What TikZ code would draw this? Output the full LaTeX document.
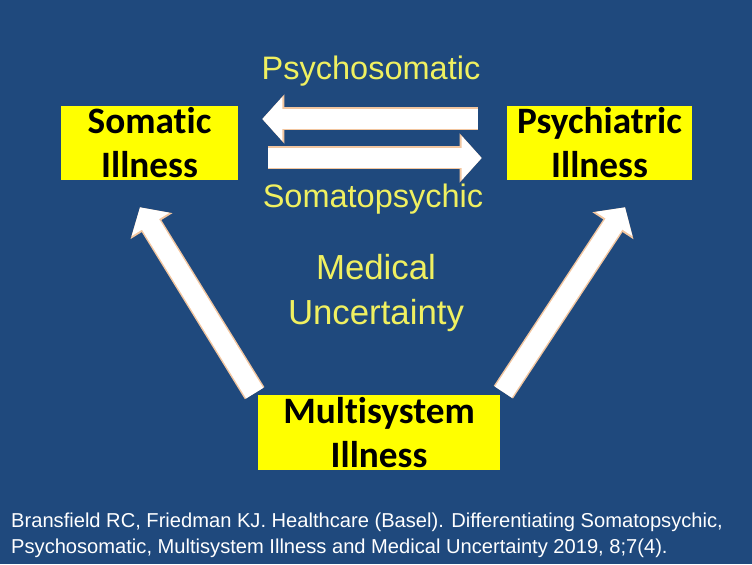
\documentclass[tikz,border=0pt]{standalone}
\usepackage{fontspec}
\setmainfont{Liberation Sans}
\newfontfamily\calibri[Ligatures=NoCommon]{Carlito}
\usetikzlibrary{arrows.meta}

\definecolor{slideblue}{HTML}{1F497D}
\definecolor{boxyellow}{HTML}{FFFF00}
\definecolor{lblyellow}{HTML}{F0F060}
\definecolor{arrowrim}{HTML}{F2C6A0}

\begin{document}
\begin{tikzpicture}[
    box/.style={fill=boxyellow, minimum height=1.48cm, inner sep=0pt,
                align=center, font=\calibri\bfseries\fontsize{21.2}{25}\selectfont},
    lbl/.style={text=lblyellow, align=center, font=\fontsize{18.5}{26}\selectfont},
    cite/.style={text=white, align=left, anchor=west,
                 font=\fontsize{11.45}{14.7}\selectfont},
    blockarrow/.style={white, line width=0.4cm,
        -{Triangle[length=0.4cm, width=0.86cm]},
        preaction={draw=arrowrim, line width=0.46cm,
                   -{Triangle[length=0.44cm, width=0.96cm]}}},
]

% === Slide background ===
\useasboundingbox (0,0) rectangle (15.04,11.28);
\fill[slideblue] (0,0) rectangle (15.04,11.28);

% --- Illness boxes ---
\node[box, minimum width=3.54cm] (som) at (2.99, 8.42) {Somatic\\Illness};
\node[box, minimum width=3.70cm] (psy) at (11.99, 8.42) {Psychiatric\\Illness};
\node[box, minimum width=4.84cm, minimum height=1.50cm] (multi) at (7.58, 2.63) {Multisystem\\Illness};

% --- Labels ---
\node[lbl] (psysom) at (7.42, 9.86) {Psychosomatic};
\node[lbl] (sompsy) at (7.46, 7.30) {Somatopsychic};
\node[lbl, font=\fontsize{19.8}{26}\selectfont] (uncert) at (7.52, 5.42) {Medical\\Uncertainty};

% --- Arrows between boxes ---
\draw[blockarrow] ([shift={(-0.58,0.48)}]psy.west) -- ([shift={(0.48,0.48)}]som.east);
\draw[blockarrow] ([shift={(0.60,-0.30)}]som.east) -- ([shift={(-0.50,-0.30)}]psy.west);
\draw[blockarrow] ([shift={(-0.06,0.03)}]multi.north west) -- ([shift={(-0.19,-0.54)}]som.south);
\draw[blockarrow] ([shift={(0.06,0.05)}]multi.north east) -- ([shift={(0.51,-0.54)}]psy.south);

% --- Reference ---
\node[cite] (ref) at (0.1, 0.58) {Bransfield RC, Friedman KJ. Healthcare (Basel). Differentiating Somatopsychic,\\
Psychosomatic, Multisystem Illness and Medical Uncertainty 2019, 8;7(4).};

\end{tikzpicture}
\end{document}
